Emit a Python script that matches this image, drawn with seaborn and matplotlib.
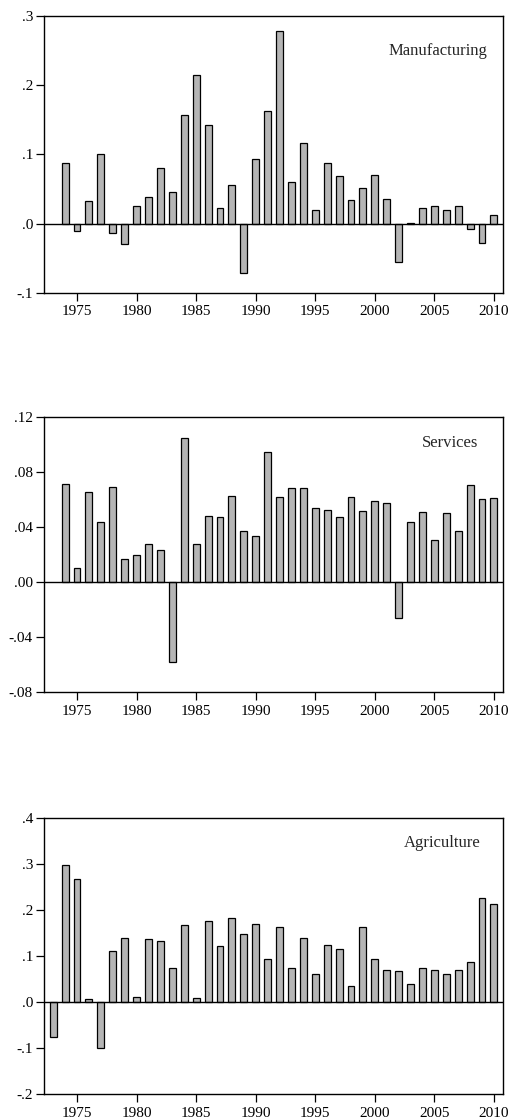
import numpy as np
import pandas as pd
import matplotlib
matplotlib.use("Agg")
import matplotlib.pyplot as plt
import seaborn as sns

years_m = list(range(1974, 2011))
manufacturing = [0.087, -0.010, 0.033, 0.101, -0.013, -0.029, 0.026, 0.038, 0.081, 0.045,
                 0.157, 0.215, 0.142, 0.023, 0.056, -0.072, 0.094, 0.163, 0.278, 0.060,
                 0.116, 0.020, 0.087, 0.069, 0.034, 0.052, 0.071, 0.036, -0.055, 0.0015,
                 0.022, 0.026, 0.020, 0.026, -0.008, -0.028, 0.013]

years_s = list(range(1974, 2011))
services = [0.0711, 0.0101, 0.0658, 0.0436, 0.0694, 0.0169, 0.0195, 0.0277, 0.0234, -0.0578,
            0.1046, 0.0280, 0.0482, 0.0472, 0.0629, 0.0373, 0.0333, 0.0945, 0.0617, 0.0687,
            0.0687, 0.0542, 0.0525, 0.0475, 0.0619, 0.0520, 0.0593, 0.0578, -0.0260, 0.0434,
            0.0513, 0.0304, 0.0501, 0.0373, 0.0708, 0.0607, 0.0614]

years_a = list(range(1973, 2011))
agriculture = [-0.077, 0.297, 0.267, 0.006, -0.101, 0.112, 0.140, 0.012, 0.138, 0.133,
               0.075, 0.168, 0.009, 0.177, 0.122, 0.183, 0.148, 0.170, 0.093, 0.164,
               0.074, 0.140, 0.061, 0.125, 0.116, 0.034, 0.164, 0.093, 0.070, 0.067,
               0.040, 0.075, 0.070, 0.061, 0.070, 0.088, 0.226, 0.214]

titles = ["Manufacturing", "Services", "Agriculture"]
yticks_m = [-0.1, 0.0, 0.1, 0.2, 0.3]
yticklabels_m = ["-.1", ".0", ".1", ".2", ".3"]
yticks_s = [-0.08, -0.04, 0.0, 0.04, 0.08, 0.12]
yticklabels_s = ["-.08", "-.04", ".00", ".04", ".08", ".12"]
yticks_a = [-0.2, -0.1, 0.0, 0.1, 0.2, 0.3, 0.4]
yticklabels_a = ["-.2", "-.1", ".0", ".1", ".2", ".3", ".4"]
xticks = [1975, 1980, 1985, 1990, 1995, 2000, 2005, 2010]

sns.set_theme(style="ticks")
plt.rcParams['font.family'] = ['Liberation Serif', 'DejaVu Serif']
plt.rcParams['font.size'] = 11

fig = plt.figure(figsize=(5.13, 11.2), dpi=100)

panels = [
    (years_m, manufacturing, yticks_m, yticklabels_m, titles[0],
     [0.0858, 0.7386, 0.8947, 0.2470], (0.965, 0.875)),
    (years_s, services, yticks_s, yticklabels_s, titles[1],
     [0.0858, 0.3821, 0.8947, 0.2455], (0.945, 0.905)),
    (years_a, agriculture, yticks_a, yticklabels_a, titles[2],
     [0.0858, 0.0232, 0.8947, 0.2464], (0.952, 0.91)),
]

for yrs, vals, yt, ytl, title, pos, tpos in panels:
    ax = fig.add_axes(pos)
    df = pd.DataFrame({"year": yrs, "value": vals})
    sns.barplot(data=df, x="year", y="value", native_scale=True, width=0.58,
                color="#b5b5b5", saturation=1, edgecolor="black", linewidth=0.9, ax=ax)
    ax.axhline(0, color="black", linewidth=1.0, zorder=5)
    ax.set_xlim(1972.23, 2010.76)
    ax.set_ylim(yt[0], yt[-1])
    ax.set_yticks(yt)
    ax.set_yticklabels(ytl)
    ax.set_xticks(xticks)
    ax.set_xticklabels([str(x) for x in xticks])
    ax.set_xlabel("")
    ax.set_ylabel("")
    for s in ax.spines.values():
        s.set_visible(True)
        s.set_color("black")
        s.set_linewidth(1.0)
    ax.tick_params(axis="both", which="both", direction="out", length=6, width=0.9,
                   colors="black", labelsize=11, pad=2)
    ax.tick_params(axis="x", pad=3)
    ax.text(tpos[0], tpos[1], title, transform=ax.transAxes, ha="right", va="center",
            fontsize=12)

fig.savefig("out.png", dpi=100)
